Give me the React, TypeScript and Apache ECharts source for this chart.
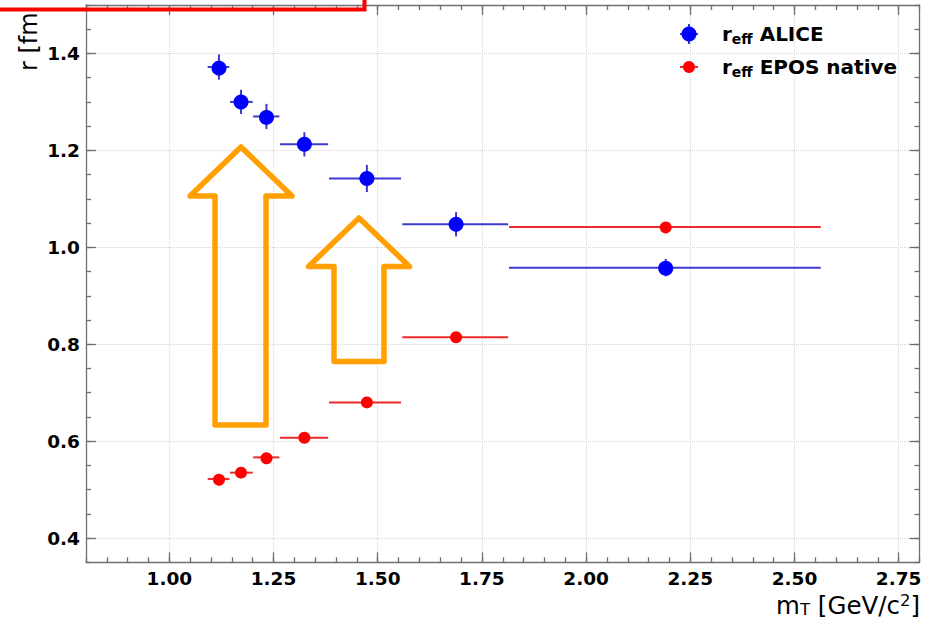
import React, { useEffect, useRef } from "react";
import * as echarts from "echarts";

// ---- data ----
const binCenters = [1.119, 1.172, 1.233, 1.324, 1.474, 1.688, 2.191];
const binLow = [1.092, 1.1455, 1.201, 1.2655, 1.383, 1.559, 1.815];
const binHigh = [1.144, 1.2, 1.264, 1.381, 1.556, 1.813, 2.563];
const aliceR = [1.372, 1.3, 1.27, 1.2125, 1.142, 1.0475, 0.958];
const aliceErr = [0.026, 0.025, 0.026, 0.025, 0.028, 0.025, 0.018];
const eposR = [0.522, 0.535, 0.5665, 0.607, 0.68, 0.8145, 1.042];
const eposErr = [0.002, 0.002, 0.002, 0.002, 0.002, 0.002, 0.002];

const xTicks = [1.0, 1.25, 1.5, 1.75, 2.0, 2.25, 2.5, 2.75];
const xTickLabels = ["1.00", "1.25", "1.50", "1.75", "2.00", "2.25", "2.50", "2.75"];
const yTicks = [0.4, 0.6, 0.8, 1.0, 1.2, 1.4];
const yTickLabels = ["0.4", "0.6", "0.8", "1.0", "1.2", "1.4"];

const X_MIN = 0.8;
const X_MAX = 2.8;
const Y_MIN = 0.35;
const Y_MAX = 1.5;
const MINOR_STEP = 0.05;

const FRAME = "#6f6f6f";
const FONT = "DejaVu Sans";

function minorValues(min: number, max: number, step: number): number[] {
  const out: number[] = [];
  const n = Math.round((max - min) / step);
  for (let i = 0; i <= n; i++) out.push(Math.round((min + i * step) * 1000) / 1000);
  return out;
}

function labelFor(ticks: number[], labels: string[], digits: number) {
  return (v: number) => {
    const i = ticks.findIndex((t) => Math.abs(t - v) < 1e-6);
    return i >= 0 ? labels[i] : v.toFixed(digits);
  };
}

function errRender(markerColor: string, lineColor: string, r: number) {
  return (params: any, api: any) => {
    const x = api.value(0);
    const y = api.value(1);
    const lo = api.value(2);
    const hi = api.value(3);
    const e = api.value(4);
    const c = api.coord([x, y]);
    const pl = api.coord([lo, y]);
    const ph = api.coord([hi, y]);
    const pt = api.coord([x, y + e]);
    const pb = api.coord([x, y - e]);
    return {
      type: "group",
      children: [
        {
          type: "line",
          shape: { x1: pl[0], y1: pl[1], x2: ph[0], y2: ph[1] },
          style: { stroke: lineColor, lineWidth: 2 },
        },
        {
          type: "line",
          shape: { x1: pt[0], y1: pt[1], x2: pb[0], y2: pb[1] },
          style: { stroke: lineColor, lineWidth: 2 },
        },
        {
          type: "circle",
          shape: { cx: c[0], cy: c[1], r },
          style: { fill: markerColor },
        },
      ],
    };
  };
}

export default function App() {
  const ref = useRef<HTMLDivElement>(null);

  useEffect(() => {
    if (!ref.current) return;
    const chart = echarts.init(ref.current, undefined, { renderer: "svg" });

    const xMinor = minorValues(X_MIN, X_MAX, MINOR_STEP);
    const yMinor = minorValues(Y_MIN, Y_MAX, MINOR_STEP);

    const lineStyle = { color: FRAME, width: 1.3 };

    const xFmt = labelFor(xTicks, xTickLabels, 2);
    const yFmt = labelFor(yTicks, yTickLabels, 1);

    const aliceData = binCenters.map((x, i) => [x, aliceR[i], binLow[i], binHigh[i], aliceErr[i]]);
    const eposData = binCenters.map((x, i) => [x, eposR[i], binLow[i], binHigh[i], eposErr[i]]);

    const makeX = (position: string, major: boolean, labels: boolean, split: boolean) => ({
      type: "value",
      position,
      min: X_MIN,
      max: X_MAX,
      axisLine: { show: major, onZero: false, lineStyle },
      axisTick: {
        show: true,
        inside: true,
        length: major ? 10 : 5,
        customValues: major ? xTicks : xMinor,
        lineStyle,
      },
      axisLabel: {
        show: labels,
        customValues: xTicks,
        formatter: xFmt,
        fontSize: 18.5,
        fontWeight: "bold",
        fontFamily: FONT,
        color: "#000",
        margin: 7,
      },
      splitLine: {
        show: split,
        lineStyle: { color: "#d6d6d6", type: "dotted", width: 1 },
      },
      minorTick: { show: false },
    });

    const makeY = (position: string, major: boolean, labels: boolean, split: boolean, withName: boolean) => ({
      type: "value",
      position,
      min: Y_MIN,
      max: Y_MAX,
      ...(withName
        ? {
            name: "r [fm]",
            nameLocation: "end",
            nameRotate: 90,
            nameGap: -66,
            nameMoveOverlap: false,
            nameTextStyle: {
              fontSize: 24,
              fontFamily: FONT,
              color: "#000",
              align: "left",
              verticalAlign: "bottom",
              lineHeight: 24,
              padding: [0, 0, 45, 0],
            },
          }
        : {}),
      axisLine: { show: major, onZero: false, lineStyle },
      axisTick: {
        show: true,
        inside: true,
        length: major ? 10 : 5,
        customValues: major ? yTicks : yMinor,
        lineStyle,
      },
      axisLabel: {
        show: labels,
        customValues: yTicks,
        formatter: yFmt,
        fontSize: 18.5,
        fontWeight: "bold",
        fontFamily: FONT,
        color: "#000",
        margin: 6,
      },
      splitLine: {
        show: split,
        lineStyle: { color: "#d6d6d6", type: "dotted", width: 1 },
      },
      minorTick: { show: false },
    });

    const arrow1 = [
      [215, 425],
      [215, 196],
      [190, 196],
      [241, 147],
      [292, 196],
      [266, 196],
      [266, 425],
    ];
    const arrow2 = [
      [334, 361.5],
      [334, 266.5],
      [308.5, 266.5],
      [359, 218],
      [409.5, 266.5],
      [384, 266.5],
      [384, 361.5],
    ];

    const legendText = (label: string) => ({
      text: `{r|r}{s|eff}{r| ${label}}`,
      rich: {
        r: { fontSize: 20, fontWeight: "bold", fontFamily: FONT, fill: "#000", color: "#000", lineHeight: 24 },
        s: {
          fontSize: 14,
          fontWeight: "bold",
          fontFamily: FONT,
          fill: "#000",
          color: "#000",
          lineHeight: 14,
          verticalAlign: "bottom",
        },
      },
    });

    chart.setOption({
      animation: false,
      backgroundColor: "#ffffff",
      grid: {
        left: 86,
        right: 9.5,
        top: 5,
        bottom: 57.7,
        containLabel: false,
        outerBoundsMode: "none",
      },
      xAxis: [
        makeX("bottom", true, true, true),
        makeX("bottom", false, false, false),
        makeX("top", true, false, false),
        makeX("top", false, false, false),
      ],
      yAxis: [
        makeY("left", true, true, true, true),
        makeY("left", false, false, false, false),
        makeY("right", true, false, false, false),
        makeY("right", false, false, false, false),
      ],
      series: [
        {
          name: "ALICE",
          type: "custom",
          xAxisIndex: 0,
          yAxisIndex: 0,
          encode: { x: 0, y: 1 },
          renderItem: errRender("#0000ff", "#3b3bd0", 7.5),
          data: aliceData,
          z: 3,
        },
        {
          name: "EPOS native",
          type: "custom",
          xAxisIndex: 0,
          yAxisIndex: 0,
          encode: { x: 0, y: 1 },
          renderItem: errRender("#ff0000", "#ee2a2a", 6),
          data: eposData,
          z: 4,
        },
      ],
      graphic: [
        {
          type: "rect",
          z: 11,
          shape: { x: 0, y: -10, width: 80, height: 20 },
          style: { fill: "#ffffff" },
        },
        // red annotation box
        {
          type: "rect",
          z: 12,
          shape: { x: -20, y: -20, width: 384.5, height: 29.5 },
          style: { fill: "none", stroke: "#ff0000", lineWidth: 4 },
        },
        // x axis title
        {
          type: "text",
          x: 920,
          y: 605,
          z: 10,
          style: {
            text: "{m|m}{sub|T}{m| [GeV/c}{sup|2}{m|]}",
            align: "right",
            verticalAlign: "middle",
            textAlign: "right",
            textVerticalAlign: "middle",
            rich: {
              m: { fontSize: 24.5, fontFamily: FONT, fill: "#000", color: "#000", lineHeight: 26 },
              sub: { fontSize: 16.5, fontFamily: FONT, fill: "#000", color: "#000", lineHeight: 10, verticalAlign: "bottom" },
              sup: { fontSize: 16.5, fontFamily: FONT, fill: "#000", color: "#000", lineHeight: 14, verticalAlign: "top" },
            },
          },
        },
        // legend
        {
          type: "line",
          z: 10,
          shape: { x1: 680, y1: 34, x2: 698, y2: 34 },
          style: { stroke: "#3b3bd0", lineWidth: 2 },
        },
        {
          type: "line",
          z: 10,
          shape: { x1: 689, y1: 24, x2: 689, y2: 44 },
          style: { stroke: "#3b3bd0", lineWidth: 2 },
        },
        { type: "circle", z: 11, shape: { cx: 689, cy: 34, r: 7.5 }, style: { fill: "#0000ff" } },
        {
          type: "text",
          x: 722,
          y: 34,
          z: 10,
          style: { ...legendText("ALICE"), align: "left", verticalAlign: "middle", textAlign: "left", textVerticalAlign: "middle" },
        },
        {
          type: "line",
          z: 10,
          shape: { x1: 680, y1: 67, x2: 698, y2: 67 },
          style: { stroke: "#ee2a2a", lineWidth: 2 },
        },
        { type: "circle", z: 11, shape: { cx: 689, cy: 67, r: 6 }, style: { fill: "#ff0000" } },
        {
          type: "text",
          x: 722,
          y: 67,
          z: 10,
          style: { ...legendText("EPOS native"), align: "left", verticalAlign: "middle", textAlign: "left", textVerticalAlign: "middle" },
        },
        // orange arrows
        {
          type: "polygon",
          z: 20,
          shape: { points: arrow1 },
          style: { fill: "none", stroke: "#ffa000", lineWidth: 5.5, lineJoin: "round" },
        },
        {
          type: "polygon",
          z: 20,
          shape: { points: arrow2 },
          style: { fill: "none", stroke: "#ffa000", lineWidth: 5.5, lineJoin: "round" },
        },
      ],
    });

    return () => chart.dispose();
  }, []);

  return (
    <div
      ref={ref}
      style={{ position: "fixed", left: 0, top: 0, width: 929, height: 620, background: "#fff" }}
    />
  );
}
